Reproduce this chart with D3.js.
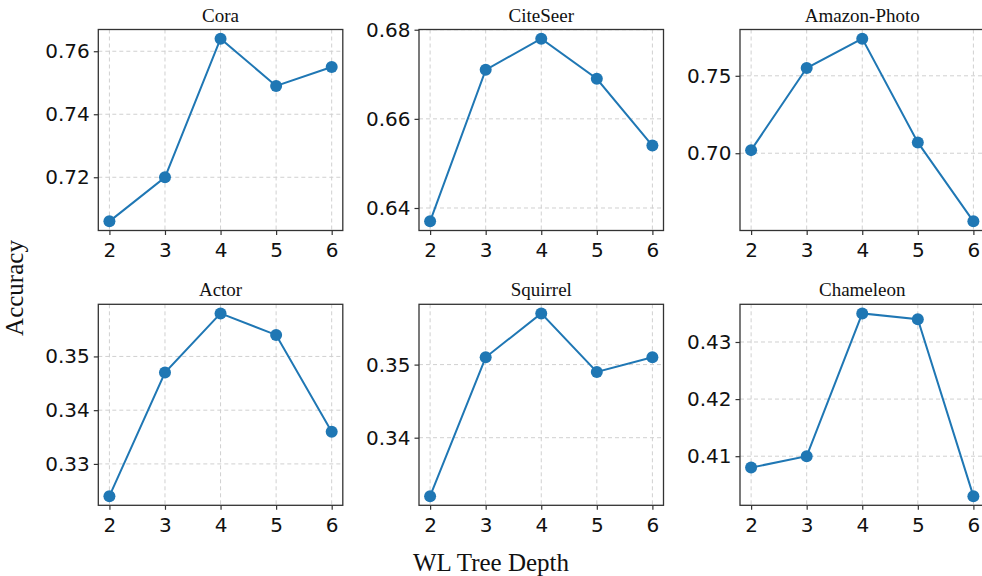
<!DOCTYPE html>
<html>
<head>
<meta charset="utf-8">
<script src="https://cdn.jsdelivr.net/npm/d3@7"></script>
<style>
  body { margin: 0; background: #fff; }
  svg { display: block; }
</style>
</head>
<body>
<div id="chart"></div>
<script>
// x values (WL tree depth)
const depths = [2, 3, 4, 5, 6];

// panel titles, in grid order
const datasets = ["Cora", "CiteSeer", "Amazon-Photo", "Actor", "Squirrel", "Chameleon"];

// accuracy for each dataset
const cora      = [0.706, 0.720, 0.764, 0.749, 0.755];
const citeseer  = [0.637, 0.671, 0.678, 0.669, 0.654];
const amazon    = [0.702, 0.755, 0.774, 0.707, 0.656];
const actor     = [0.324, 0.347, 0.358, 0.354, 0.336];
const squirrel  = [0.332, 0.351, 0.357, 0.349, 0.351];
const chameleon = [0.408, 0.410, 0.435, 0.434, 0.403];

// y tick labels per panel
const coraTicks      = [0.72, 0.74, 0.76];
const citeseerTicks  = [0.64, 0.66, 0.68];
const amazonTicks    = [0.70, 0.75];
const actorTicks     = [0.33, 0.34, 0.35];
const squirrelTicks  = [0.34, 0.35];
const chameleonTicks = [0.41, 0.42, 0.43];

const series = [cora, citeseer, amazon, actor, squirrel, chameleon];
const yTicks = [coraTicks, citeseerTicks, amazonTicks, actorTicks, squirrelTicks, chameleonTicks];

const width = 982, height = 576;
const colLeft = [98.3, 419, 740];
const rowTop = [29.5, 304.3];
const panelW = 244.5, panelH = 201;
const blue = "#1f77b4";

const svg = d3.select("#chart").append("svg")
    .attr("width", width)
    .attr("height", height);

// padded domain like matplotlib (5% margins)
function padded(ext) {
    const m = (ext[1] - ext[0]) * 0.05;
    return [ext[0] - m, ext[1] + m];
}

datasets.forEach(function(name, i) {
    const left = colLeft[i % 3], top = rowTop[Math.floor(i / 3)];
    const values = series[i];

    const x = d3.scaleLinear().domain(padded(d3.extent(depths))).range([0, panelW]);
    const y = d3.scaleLinear().domain(padded(d3.extent(values))).range([panelH, 0]);

    const g = svg.append("g").attr("transform", `translate(${left},${top})`);

    // grid
    g.append("g").selectAll("line.gx")
        .data(depths).enter().append("line")
        .attr("x1", d => x(d)).attr("x2", d => x(d))
        .attr("y1", 0).attr("y2", panelH)
        .style("stroke", "#d0d0d0").style("stroke-width", 1)
        .style("stroke-dasharray", "4,3");
    g.append("g").selectAll("line.gy")
        .data(yTicks[i]).enter().append("line")
        .attr("x1", 0).attr("x2", panelW)
        .attr("y1", d => y(d)).attr("y2", d => y(d))
        .style("stroke", "#d0d0d0").style("stroke-width", 1)
        .style("stroke-dasharray", "4,3");

    // axes
    const xAxis = g.append("g")
        .attr("transform", `translate(0,${panelH})`)
        .call(d3.axisBottom(x).tickValues(depths).tickFormat(d3.format("d")).tickSize(4.5).tickPadding(8));
    const yAxis = g.append("g")
        .call(d3.axisLeft(y).tickValues(yTicks[i]).tickFormat(d3.format(".2f")).tickSize(4.5).tickPadding(4));

    [xAxis, yAxis].forEach(a => {
        a.select(".domain").remove();
        a.selectAll(".tick line").style("stroke", "#333").style("stroke-width", 1.2);
        a.selectAll(".tick text")
            .style("font-family", "DejaVu Sans")
            .style("font-size", "20px")
            .style("fill", "#111");
    });

    // frame
    g.append("rect")
        .attr("width", panelW).attr("height", panelH)
        .style("fill", "none").style("stroke", "#333").style("stroke-width", 1.3);

    // line + markers
    const line = d3.line().x((d, j) => x(depths[j])).y(d => y(d));
    g.append("path")
        .datum(values)
        .attr("d", line)
        .style("fill", "none").style("stroke", blue).style("stroke-width", 2);
    g.selectAll("circle")
        .data(values).enter().append("circle")
        .attr("cx", (d, j) => x(depths[j]))
        .attr("cy", d => y(d))
        .attr("r", 6)
        .style("fill", blue);

    // title
    g.append("text")
        .attr("x", panelW / 2)
        .attr("y", -8)
        .attr("text-anchor", "middle")
        .style("font-family", "Liberation Serif")
        .style("font-size", "19px")
        .style("fill", "#111")
        .text(name);
});

// shared labels
svg.append("text")
    .attr("transform", "translate(23,288) rotate(-90)")
    .attr("text-anchor", "middle")
    .style("font-family", "Liberation Serif")
    .style("font-size", "25px")
    .style("fill", "#111")
    .text("Accuracy");

svg.append("text")
    .attr("x", 491)
    .attr("y", 571)
    .attr("text-anchor", "middle")
    .style("font-family", "Liberation Serif")
    .style("font-size", "25px")
    .style("fill", "#111")
    .text("WL Tree Depth");
</script>
</body>
</html>
